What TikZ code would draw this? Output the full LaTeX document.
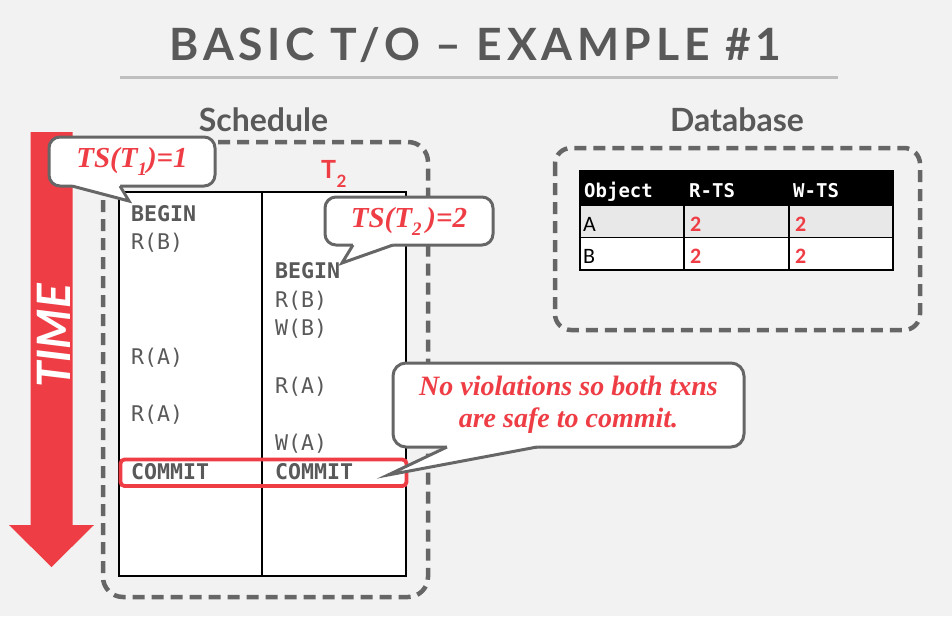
\documentclass[tikz,border=0pt]{standalone}
\usepackage{fontspec}
\setmainfont{Lato}
\newfontfamily\titlefont[LetterSpace=10.5]{Lato}
\newfontfamily\codefont{DejaVu Sans Mono}
\newfontfamily\notefont{Liberation Serif}
\newfontfamily\cellfont{Carlito}

\definecolor{bg}{HTML}{F2F2F2}
\definecolor{ink}{HTML}{595959}
\definecolor{frame}{HTML}{666666}
\definecolor{alert}{HTML}{EE3D45}
\definecolor{rowgray}{HTML}{E8E8E8}
\definecolor{rulegray}{HTML}{BFBFBF}

% lowered subscript for the timestamp labels
\newcommand{\lowsub}[1]{\raisebox{-0.28em}{\fontsize{19}{19}\selectfont #1}}

\tikzset{
  sect/.style={font=\fontsize{32}{36}\selectfont\bfseries, text=ink, anchor=base},
  dashbox/.style={draw=frame, line width=4.5pt, dash pattern=on 12pt off 7pt, rounded corners=20pt},
  op/.style={font=\codefont\fontsize{21.6}{24}\selectfont, text=ink, anchor=base west, inner sep=0pt},
  opb/.style={op, font=\codefont\bfseries\fontsize{21.6}{24}\selectfont},
  callout/.style={draw=frame, fill=white, line width=3pt, rounded corners=11pt,
    inner sep=0pt, outer sep=0pt, text=alert, align=center,
    font=\notefont\bfseries\itshape\fontsize{29}{32}\selectfont},
  pointer/.style={draw=frame, line width=3pt, line join=miter},
  hdr/.style={font=\codefont\bfseries\fontsize{19}{22}\selectfont, text=white, anchor=base west, inner sep=0pt},
  cell/.style={font=\cellfont\fontsize{22}{24}\selectfont, text=black, anchor=base west, inner sep=0pt},
  num/.style={font=\cellfont\bfseries\fontsize{22}{24}\selectfont, text=alert, anchor=base west, inner sep=0pt},
}

\begin{document}
\begin{tikzpicture}[x=1pt,y=-1pt]
  % canvas
  \fill[bg] (0,0) rectangle (952,616);
  \useasboundingbox (0,0) rectangle (952,616);

  % heading
  \node[anchor=base, text=ink, inner sep=0pt,
        font=\titlefont\bfseries\fontsize{44.5}{48}\selectfont] (title) at (475.5,60)
        {BASIC T/O – EXAMPLE \#1};
  \draw[rulegray, line width=3pt] (120,77) -- (838,77);

  % section labels
  \node[sect] (schedlabel) at (263.5,131) {Schedule};
  \node[sect] (dblabel) at (737,131.5) {Database};

  % time arrow
  \fill[alert] (30.5,132) -- (72.5,132) -- (72.5,525) -- (94,525) -- (51.5,567)
               -- (9,525) -- (30.5,525) -- cycle;
  \node[rotate=90, text=white, inner sep=0pt,
        font=\bfseries\itshape\fontsize{46}{48}\selectfont] (time) at (53.5,336) {TIME};

  % schedule frame and table
  \draw[dashbox] (103,142) rectangle (428,597);
  \draw[black, line width=1.3pt, fill=white] (119,192) rectangle (406,576);
  \draw[black, line width=1.1pt] (262,192) -- (262,576);

  % transaction header
  \node[anchor=base west, inner sep=0pt, text=alert, font=\bfseries\fontsize{25}{28}\selectfont] (t2) at (321,178) {T};
  \node[anchor=base west, inner sep=0pt, text=alert, font=\bfseries\fontsize{17}{20}\selectfont] (t2sub) at (336.5,187) {2};

  % T1 operations
  \node[opb] (a1) at (131,221)   {BEGIN};
  \node[op]  (a2) at (131,249.7) {R(B)};
  \node[op]  (a3) at (131,364.5) {R(A)};
  \node[op]  (a4) at (131,421.9) {R(A)};
  \node[opb] (a5) at (131,479.3) {COMMIT};

  % T2 operations
  \node[opb] (b1) at (275,278.4) {BEGIN};
  \node[op]  (b2) at (275,307.1) {R(B)};
  \node[op]  (b3) at (275,335.8) {W(B)};
  \node[op]  (b4) at (275,393.2) {R(A)};
  \node[op]  (b5) at (275,450.6) {W(A)};
  \node[opb] (b6) at (275,479.3) {COMMIT};

  % commit row highlight
  \draw[alert, line width=3.8pt, rounded corners=4pt] (120.5,459.5) rectangle (406.5,486);

  % database frame and table
  \draw[dashbox, rounded corners=16pt] (555,148) rectangle (920,330);
  \fill[black] (580,171) rectangle (893,205);
  \fill[rowgray] (580,205) rectangle (893,237.5);
  \fill[white] (580,237.5) rectangle (893,270);
  \draw[black, line width=1.5pt] (580,171) rectangle (893,270);
  \draw[black, line width=1.5pt] (580,205) -- (893,205);
  \draw[black, line width=1.5pt] (580,237.5) -- (893,237.5);
  \draw[black, line width=1.5pt] (684,205) -- (684,270);
  \draw[black, line width=1.5pt] (789,205) -- (789,270);

  \node[hdr] (hobj) at (584,197) {Object};
  \node[hdr] (hrts) at (689,197) {R-TS};
  \node[hdr] (hwts) at (793,197) {W-TS};
  \node[cell] (ca) at (583,231) {A};
  \node[num]  (ra) at (690,231) {2};
  \node[num]  (wa) at (795,231) {2};
  \node[cell] (cb) at (583,263) {B};
  \node[num]  (rb) at (690,263) {2};
  \node[num]  (wb) at (795,263) {2};

  % callout: timestamp of T1
  \node[callout, minimum width=166pt, minimum height=49pt] (ts1) at (132,161.5)
       {TS(T\lowsub{1})=1};
  \coordinate (ts1tip) at (129,201);
  \fill[white] ([xshift=23pt,yshift=2.5pt]ts1.south west) -- ([xshift=71pt,yshift=2.5pt]ts1.south west)
       -- ([xshift=71pt]ts1.south west) -- (ts1tip) -- ([xshift=23pt]ts1.south west) -- cycle;
  \draw[pointer] ([xshift=23pt]ts1.south west) -- (ts1tip) -- ([xshift=71pt]ts1.south west);

  % callout: timestamp of T2
  \node[callout, minimum width=168pt, minimum height=48pt] (ts2) at (409,221)
       {TS(T\lowsub{2}\,)=2};
  \coordinate (ts2tip) at (342,263);
  \fill[white] ([xshift=28pt,yshift=2.5pt]ts2.south west) -- ([xshift=68pt,yshift=2.5pt]ts2.south west)
       -- ([xshift=68pt]ts2.south west) -- (ts2tip) -- ([xshift=28pt]ts2.south west) -- cycle;
  \draw[pointer] ([xshift=28pt]ts2.south west) -- (ts2tip) -- ([xshift=68pt]ts2.south west);

  % callout: verdict
  \node[callout, minimum width=351pt, minimum height=84pt, rounded corners=13pt,
        font=\notefont\bfseries\itshape\fontsize{28}{32}\selectfont] (verdict) at (568.5,405)
       {No violations so both txns\\are safe to commit.};
  \coordinate (verdicttip) at (388,475);
  \fill[white] ([xshift=54pt,yshift=2.5pt]verdict.south west) -- ([xshift=144pt,yshift=2.5pt]verdict.south west)
       -- ([xshift=144pt]verdict.south west) -- (verdicttip) -- ([xshift=54pt]verdict.south west) -- cycle;
  \draw[pointer] ([xshift=54pt]verdict.south west) -- (verdicttip) -- ([xshift=144pt]verdict.south west);
\end{tikzpicture}
\end{document}
